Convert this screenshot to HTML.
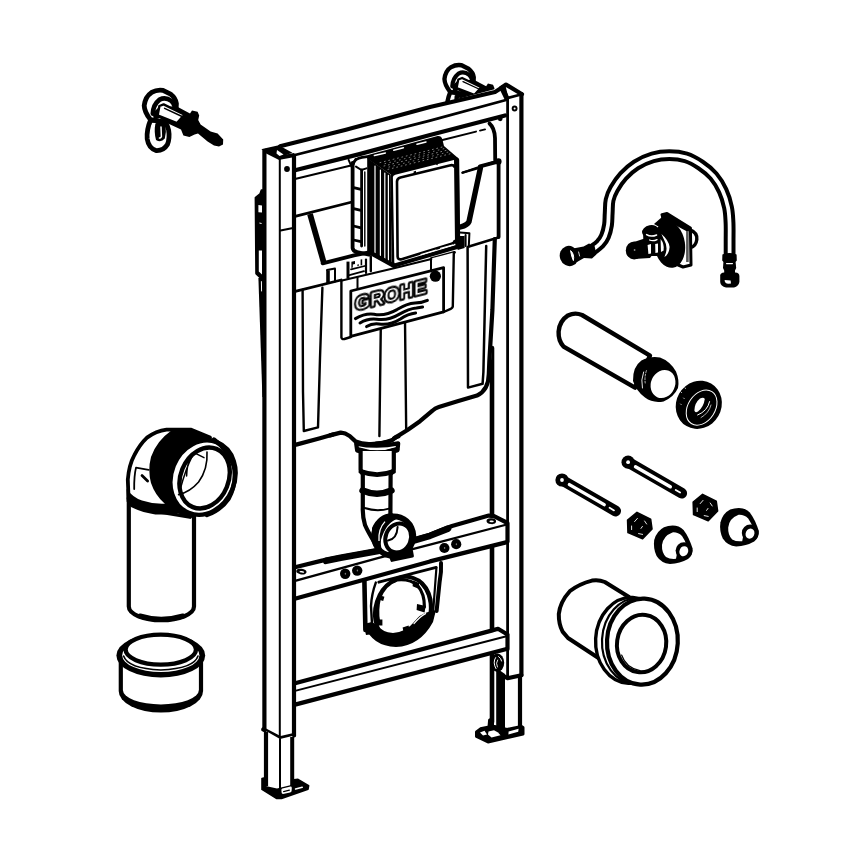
<!DOCTYPE html>
<html lang="en">
<head>
<meta charset="utf-8">
<title>GROHE installation frame - exploded parts drawing</title>
<style>
html,body{margin:0;padding:0;background:#fff;}
body{width:868px;height:868px;overflow:hidden;font-family:"Liberation Sans",sans-serif;}
svg{display:block;position:absolute;left:0;top:0;}
.k{fill:none;stroke:#000;stroke-width:4.2;stroke-linecap:round;stroke-linejoin:round;}
.m{fill:none;stroke:#000;stroke-width:2.8;stroke-linecap:round;stroke-linejoin:round;}
.t{fill:none;stroke:#000;stroke-width:2;stroke-linecap:round;stroke-linejoin:round;}
.h{fill:none;stroke:#000;stroke-width:1.2;stroke-linecap:round;stroke-linejoin:round;}
.w{fill:#fff;}
.b{fill:#000;}
.wk{fill:#fff;stroke:#000;stroke-width:4.2;stroke-linejoin:round;stroke-linecap:round;}
.wm{fill:#fff;stroke:#000;stroke-width:2.6;stroke-linejoin:round;stroke-linecap:round;}
.wt{fill:#fff;stroke:#000;stroke-width:1.8;stroke-linejoin:round;stroke-linecap:round;}
.bk{fill:#000;stroke:#000;stroke-width:3;stroke-linejoin:round;stroke-linecap:round;}
.ws{fill:none;stroke:#fff;stroke-linecap:round;stroke-linejoin:round;}
</style>
</head>
<body>
<svg width="868" height="868" viewBox="0 0 868 868" role="img" aria-label="GROHE installation frame exploded view">
<rect x="0" y="0" width="868" height="868" fill="#fff"/>
<!-- 10_bolt_tr.svg -->
<g id="bolt-tr" transform="translate(459.2 77.6) scale(0.91) translate(-160.4 -104)">
  <g>
    <!-- loop -->
    <path class="wk" d="M150.6,120 Q146.4,130 147.2,139 Q148.6,148 156,150.6 Q163.6,151 167.4,144.6 Q170,138 168.6,130 Q167,124 164.6,121.4 Z" style="stroke-width:4.8"/>
    <path class="b" d="M155.4,123.6 Q160.6,119.6 165.4,124 Q166.6,132 164.8,138.6 Q161,143 156,140 Q153.8,132 155.4,123.6 Z"/>
    <path class="ws" d="M161,127 L161.4,136.6 Q160.4,138.4 159.4,138" style="stroke-width:1.5"/>
    <path class="ws" d="M152,125.6 Q150.4,133 151.2,139" style="stroke-width:1"/>
    <!-- head disc -->
    <path class="wk" d="M150.4,119.6 Q144.4,112 144.2,105.6 Q145.2,96.6 151.6,92.4 Q157,89.4 163,90.4 L170.6,94.2 Q175.8,98.4 176.4,103.6 L176.2,108 L165,122 Z" style="stroke-width:4.8"/>
    <path class="k" d="M152.8,113.6 Q153.2,104.6 159.6,99.6 Q165.6,96.6 171.4,101 Q173.6,103 174.2,105.4" style="stroke-width:4.6"/>
    <path class="b" d="M152.6,113 L158,108 L160,118 L154,120 Z"/>
    <!-- black nut and thread -->
    <path class="b" d="M176,106 L190,113.4 L192,110.6 L197.6,111.8 L199.2,115.6 L198.2,120 L200.6,124.4 L210.6,131.6 L217.6,133.6 L223.2,139.4 L223,144.4 L219,146.6 L214,145.6 L207.6,141.4 L198,133.4 L194.6,134.6 L189.4,137 L183.4,135.4 L181,129.4 L168,123.6 L157,116.6 L158.6,108 Z"/>
    <!-- shaft -->
    <path class="wm" d="M159.4,106 L163.6,104.4 L184.6,114.6 L177,123 L157.6,115.4 Z" style="stroke-width:2.4"/>
    <path class="t" d="M164.6,108.4 L182.6,116.8" style="stroke-width:1.5"/>
  </g>
</g>
<!-- 15_rpost_back.svg -->
<g id="rpost-back">
  <path class="w" d="M492,120 L507.6,98 L521.4,94 L521.4,675 L507.6,678 L492,676 Z"/>
  <!-- right leg -->
  <path class="w" d="M492,660 L520,676 L520,728 L492,728 Z"/>
  <path class="k" d="M492,348 L492,722" style="stroke-width:4.6"/>
  <path class="k" d="M520,677 L520,727"/>
  <path class="b" d="M496.2,668 L505,674 L505,731 L496.2,731 Z"/>
  <ellipse class="b" cx="497.4" cy="662.8" rx="6.8" ry="9.2"/>
  <path class="ws" d="M495.6,657.6 Q492.4,662.6 496,668.6 M498.6,656.6 Q501.4,658.6 501.6,661" style="stroke-width:1"/>
  <path class="ws" d="M497.6,660 Q495.4,663 497.4,667" style="stroke-width:0.9"/>
  <!-- right foot -->
  <path class="bk" d="M476.5,732 L480.5,728.8 L489,727 L489.6,720 L492.5,718.5 L492.5,726 L507,729.5 L521.5,726.5 L523,727.5 L523,734 L488,742 L476.5,736.5 Z"/>
  <path class="w" d="M480,732.6 L484.5,730.8 L487,734.5 L483,735.6 Z"/>
  <path class="w" d="M488.5,731.4 L494,730.2 L498,732.4 L500.5,735.2 L491.5,737.4 L488,734.6 Z"/>
  <path class="w" d="M508.6,731.4 L518.6,728.8 L518.2,731.8 L508.4,734.4 Z"/>
</g>
<!-- 20_tank.svg -->
<g id="tank">
  <!-- upper body silhouette -->
  <path class="w" d="M296,178.8 L484,130 Q494,125 495.6,137 L500,160 L500,238 L489,388 Q487,392 475,396 L438.8,406.9 L420,421.2 L407.5,430 L398.8,441 L357.5,442.5 L350,436 L340,432.5 L296,444.6 Z"/>
  <!-- top edge -->
  <path class="t" d="M296,178.8 L352,165.2 M442.5,140 L476,131.6 M480,130.6 L485,129.4"/>
  <path class="k" d="M489.5,123.5 Q494.6,128 495,138 L495.2,160" style="stroke-width:3.8"/>
  <path class="k" d="M498.6,162 L498.6,237" style="stroke-width:3.8"/>
  <circle class="b" cx="498.4" cy="161.4" r="3.2"/>
  <circle class="b" cx="500.2" cy="118.8" r="2.4"/>
  <!-- band bottom edge -->
  <path class="m" d="M296,216.2 L352,202"/>
  <path class="t" d="M462.5,172.8 L497,160.6"/>
  <!-- left recess -->
  <path class="k" d="M310,214 L323.6,262" style="stroke-width:5.8;stroke-linecap:butt"/>
  <path class="k" d="M322.6,263.4 L354,255.4 L369,252.4" style="stroke-width:3.8"/>
  <!-- right recess -->
  <path class="t" d="M462.5,172.6 L480,167.6" style="stroke-width:2.2"/>
  <path class="k" d="M480,166.4 L499,161.4" style="stroke-width:4"/>
  <path class="k" d="M480.4,168 L469,221.6 Q467.6,225 460.4,227" style="stroke-width:5.4"/>
  <!-- shelf / top of lower body -->
  <path class="m" d="M296.2,291.2 L341.2,280"/>
  <path class="m" d="M469,246.4 L498.4,237.6" style="stroke-width:2.6"/>
  <path class="t" d="M460,232.6 L469.4,233.2 L468.8,246.4 M465.6,235 L465.6,246"/>
  <path class="b" d="M457.6,236 L464.6,236 L464.6,248 L457.6,250 Z"/>
  <path class="m" d="M431.2,258.6 L454.5,252.4"/>
  <path class="t" d="M431.2,258.8 L431.2,270"/>
  <!-- small details on shelf -->
  <path class="k" d="M328,270.4 L328,283.4" style="stroke-width:3.6;stroke-linecap:butt"/>
  <path class="t" d="M335,269 L335,281.4 M327,270 L335,268.6"/>
  <path class="k" d="M348,261.6 L348,278.6" style="stroke-width:3;stroke-linecap:butt"/>
  <path class="t" d="M351,269.4 L364.8,266 M349.4,275.2 L364,271.2" style="stroke-width:1.8"/>
  <path class="m" d="M366,259.6 L366,273" style="stroke-width:2.2"/>
  <path class="m" d="M370.8,256.4 L370.8,271" style="stroke-width:2.4"/>
  <path class="b" d="M351.4,261.8 l3.6,-0.9 l0,3 l-2.2,0.6 l0,3 l-1.4,0.4 Z M357.4,264.6 l1.4,-0.4 l0,1.6 l-1.4,0.4 Z M360.6,259.6 l1.6,-0.4 l0,6 l-1.6,0.4 Z"/>
  <!-- left rib -->
  <path class="m" d="M302.6,290 L303,392 L303.8,431 L318,427.4 L320,358 L322.4,287.6" style="stroke-width:2.4"/>
  <!-- centre column -->
  <path class="m" d="M380.8,326 L379.4,436 M405,320 L406.2,431" style="stroke-width:2.4"/>
  <!-- right rib -->
  <path class="m" d="M467.6,247 L468,387.6 L482.6,383.8 L483.4,372 L486.2,246" style="stroke-width:2.5"/>
  <!-- right edge + bottom outline -->
  <path class="k" d="M494.8,239 L492.4,310 L489.4,360 L488.8,374 Q488.6,390 477,395.6 L457.5,401.2 L438.8,406.9 Q435,408 432.5,410.6 L420,421.2 L407.5,430 L394,438.4"/>
  <path class="k" d="M296.2,444.6 L320,438.2 L333,434.4"/>
</g>
<!-- 30_flushpipe.svg -->
<g id="flushpipe">
  <!-- tank bottom sweep near the neck -->
  <path class="k" d="M330,435.4 L340.6,432.6 Q345,432.4 349.4,435.8 L355.5,441.4 Q362,444.4 371,444 Q384,443.6 392.5,440 L396,437"/>
  <!-- flange -->
  <path class="wk" d="M356.2,443.6 L357,449.4 Q377.5,456.4 397.6,449.2 L398.2,443.4 Q377,448 356.2,443.6 Z"/>
  <path class="k" d="M358,450 Q377.5,456.4 396.6,449.8" style="stroke-width:5.6"/>
  <path class="t" d="M376,442.6 Q388,442 399.5,437"/>
  <!-- pipe body -->
  <path class="w" d="M360.6,451 L393.8,451 L393.8,470 L390.4,475 L390.4,515 L362.6,515 L362.6,475 L360.6,470 Z"/>
  <path class="k" d="M360.6,450.6 L360.6,469.6 L362.8,474.6 L362.8,507.6 Q362.4,516 365,525 Q368,532 376,545"/>
  <path class="k" d="M393.8,450.6 L393.8,469.6 L390.6,474.6 L390.4,515"/>
  <path class="k" d="M361,471.6 Q377,477.6 393.4,471.6" style="stroke-width:4.8"/>
  <path class="k" d="M362.6,490.6 Q377,497 391.4,490.6" style="stroke-width:6.6"/>
  <path class="t" d="M364.6,508 Q377,512 389,508.6"/>
</g>
<!-- 40_bracket.svg -->
<g id="bracket">
  <!-- bracket plate under upper bar -->
  <path class="w" d="M363.8,581 L441,562 L437,612 Q428,640 403,646 Q378,646 366,630 Z"/>
  <path class="k" d="M364.4,581 L365.4,630" style="stroke-width:4.6"/>
  <path class="b" d="M363.6,624 L372,622 L374,634 L366,635 Z"/>
  <path class="t" d="M375.8,582.6 Q371.6,594 371,606 L372,624" style="stroke-width:2.4"/>
  <path class="k" d="M441,563 Q441.6,572 439.6,582 L436.6,611" style="stroke-width:4"/>
  <path class="t" d="M436.4,568 L433.2,611" style="stroke-width:2.2"/>
  <path class="m" d="M378.8,582.2 L436.2,567.4"/>
  <!-- ring -->
  <ellipse class="wk" cx="403" cy="610" rx="27.4" ry="33.6" transform="rotate(18 403 610)" style="stroke-width:4"/>
  <path class="b" d="M365,626 Q372,646 396,647 Q420,646 433,622 L436,610 L428,612 Q420,614 414,622 Q406,632 393,633 Q382,632 377,625 L372,622 Z"/>
  <path class="w" d="M379.5,597 Q386,583 398,580 Q409,579.6 416,585 Q424,594 423.6,606 L420,612 Q410,622 406,628 Q396,632.6 388,630.6 Q378,624 378.4,610 Z"/>
  <path class="k" d="M378.6,622 Q376.4,610 379.4,598 Q385,584 397,580 Q410,578.6 417.6,585.6 Q424.6,594 424.4,607" style="stroke-width:3.2"/>
  <path class="b" d="M413,580.6 l6.4,2.4 l-1.4,5.6 l-5.4,-2.4 Z M417,604 l8.6,2 l-1,6.6 l-8,-2.6 Z M376.4,619.6 l6,0 l0,6 l-6,0 Z M402.6,627.6 l6,-2 l1.2,5.6 l-6,2 Z M380.4,595.6 l4,1.2 l-1.2,4.2 l-4,-1.2 Z M389.6,580.5 l5,-2.8 l1.8,4 l-5.4,2.2 Z"/>
  <path class="t" d="M420.6,583.6 Q430.6,594 430,611"/>
  <path class="h" d="M414,623.6 Q420.6,616 425.6,613.6" style="stroke:#fff"/>
</g>
<!-- 50_frame.svg -->
<g id="frame">
  <!-- lower cross bar -->
  <path class="w" d="M296,683 L491,630.6 L498,628.8 L508,634.4 L508,649 L296,704.6 Z"/>
  <path class="k" d="M296,683 L491.5,630.6 L498,628.8 L507.5,634.5"/>
  <path class="t" d="M296,690.6 L506.5,636.2"/>
  <path class="k" d="M296,704.4 L507.5,648.8"/>
  <!-- upper cross bar -->
  <path class="w" d="M296,567 L358.5,552.5 L430,534.4 L488.8,515.6 L494,516.2 L507.5,523 L507.5,542 L430,561.4 L293,599.2 Z"/>
  <path class="k" d="M296,567 L322,560.6 L340.7,557 L372,551.4 L385,548.4 L414,539.6 L430,534.8 L452,526 L488.8,515.6 L494,516.2 L507.5,523"/>
  <path class="k" d="M326,560.8 L340.7,557.8 L378,551 M412,541 L430,535.8 L448,528.6" style="stroke-width:6.6"/>
  <path class="t" d="M296,580.6 L378.7,557.8 L430,544.6 L505,525" style="stroke-width:2.3"/>
  <path class="k" d="M293,599.2 L358.5,581.2 L430,561.4 L506,542.4"/>
  <ellipse class="b" cx="301.4" cy="571.6" rx="5.2" ry="2.9" transform="rotate(8 301.4 571.6)"/>
  <ellipse class="w" cx="301.8" cy="571.8" rx="2.4" ry="0.8" transform="rotate(8 301.8 571.8)"/>
  <ellipse class="b" cx="491.3" cy="521.2" rx="4.8" ry="2.9" transform="rotate(5 491.3 521.2)"/>
  <ellipse class="w" cx="491.6" cy="521.4" rx="2.2" ry="0.8" transform="rotate(5 491.6 521.4)"/>
  <g class="b">
    <circle cx="345.2" cy="573.8" r="5.2"/><circle cx="357.2" cy="570.6" r="5.2"/>
    <circle cx="444.4" cy="548" r="5.1"/><circle cx="456.2" cy="544.2" r="5.1"/>
  </g>
  <g fill="#777">
    <ellipse cx="345.4" cy="573.8" rx="0.7" ry="1"/><ellipse cx="357.4" cy="570.6" rx="0.7" ry="1"/>
    <ellipse cx="444.6" cy="548" rx="0.7" ry="1"/><ellipse cx="456.4" cy="544.2" rx="0.7" ry="1"/>
  </g>
  <!-- top rail -->
  <path class="w" d="M280,146.3 L502,87.3 L507.5,98 L507,116 L296,170.5 L294,155 Z"/>
  <path class="k" d="M280,146.3 L345,130 L430,107 L495,92 L502,87.5"/>
  <path class="m" d="M295,155 L358.5,138.8 L430,120.6 L506,100"/>
  <path class="k" d="M296,170 L358.5,154.4 L430,135 L505,115.5"/>
  <!-- bracket on the outside of the left post -->
  <path class="bk" d="M255.4,197.6 L260,194 L261.4,190 L265,190 L265,279 L261.2,278.8 L256,273.6 Z" style="stroke-width:1.6"/>
  <path class="w" d="M258.4,205 L262,205.4 L262,212.6 L258.4,212.2 Z M258.8,250.4 L262,250.4 L262,274.4 L258.8,271.6 Z M259.4,222.4 L261.6,223 L261.6,224 L259.4,223.4 Z"/>
  <path class="b" d="M258.4,278 L266,278 L266,397 L262.4,397 Z"/>
  <path class="ws" d="M261.4,281.6 L261.6,291" style="stroke-width:1"/>
  <!-- left post -->
  <path class="w" d="M264.4,149.5 L280,146.5 L294,155 L294,735 L280,738 L264.4,729.4 Z"/>
  <path class="k" d="M264.4,149 L264.4,729.4" style="stroke-linecap:butt"/>
  <path class="t" d="M279.8,158 L279.8,738"/>
  <path class="k" d="M294,155.5 L294,735.5"/>
  <path class="k" d="M264.6,150.4 L279.5,157.8 L294.5,155" style="stroke-linecap:butt"/>
  <path class="bk" d="M264.4,149.6 L278.6,146.4 L290,152.5 L279.5,156.5 Z" style="stroke-width:2;stroke-linejoin:miter"/>
  <path class="w" d="M277,150 L283.5,154.6 L279.5,156 L276.5,153.5 Z"/>
  <circle class="b" cx="287" cy="169" r="2.9"/>
  <path class="t" d="M280.6,230.6 L293,228"/>
  <path class="k" d="M263.2,729.4 L280,738.2 L294,735"/>
  <!-- left foot -->
  <path class="bk" d="M262,778.6 L266,777.6 L292,780 L298,779.4 L308.6,785.8 L308,789.2 L281.5,798.4 L276.4,798.4 L262,789.4 Z" style="stroke-width:1.6"/>
  <!-- left leg -->
  <path class="w" d="M266,731 L280,739 L292.3,736 L292.2,784.8 L281,787.6 L277,788.6 L268,786.4 L266,786 Z"/>
  <path class="k" d="M266,731.5 L266,786" style="stroke-width:4.2;stroke-linecap:butt"/>
  <path class="t" d="M280,739 L280,790"/>
  <path class="k" d="M292.2,737 L292.2,786" style="stroke-width:4;stroke-linecap:butt"/>
  <path class="w" d="M282.4,788.6 L290.6,786.6 Q291.8,786.6 291.8,788 L291.6,791 Q291.4,792.2 290,792.6 L283,794 Q281.6,794 281.6,792.6 L281.4,790 Q281.4,789 282.4,788.6 Z"/>
  <path class="t" d="M283.6,791.6 L289.4,790.2" style="stroke-width:1.2"/>
  <path class="ws" d="M295.6,789 L302.2,787.2" style="stroke-width:1.6"/>
  <!-- right post -->
  <path class="w" d="M502,87.3 L506,84.5 L522,94 L521.5,675 L507.7,678 L507.5,98 Z"/>
  <path class="m" d="M507.6,98 L507.6,678"/>
  <path class="k" d="M521.4,94 L521.4,675"/>
  <path class="k" d="M502,87.2 L506,84.6 L522,94.2"/>
  <path class="m" d="M503,88 L508,98 L521,94.5"/>
  <path class="bk" d="M500,87.5 L504.5,86 L507,96 L505.5,99 Z" style="stroke-width:2"/>
  <circle class="b" cx="514.6" cy="108.5" r="2.9"/>
  <circle class="w" cx="514.6" cy="108.5" r="1"/>
  <path class="k" d="M507.5,523 L507.5,541.5"/>
  <path class="k" d="M507.5,634.5 L507.5,649"/>
  <path class="k" d="M521.4,675.2 L507.6,678.2 L503.6,676"/>
</g>
<!-- 55_elbowring.svg -->
<g id="elbowring">
  <!-- elbow ring -->
  <ellipse class="w" cx="393.6" cy="536.4" rx="21" ry="21" transform="rotate(20 393.6 536.4)"/>
  <ellipse cx="393.6" cy="536.2" rx="19.6" ry="19.8" transform="rotate(20 393.6 536.2)" fill="#fff" stroke="#000" stroke-width="5.8"/>
  <ellipse cx="398.2" cy="538" rx="12.6" ry="14.8" transform="rotate(22 398.2 538)" fill="#fff" stroke="#000" stroke-width="4"/>
  <path class="b" d="M372,528 Q378,514 392,513 L399,518 Q386,522 381,540 Q380,548 384,554 L377,548 Q371,538 372,528 Z"/>
  <path d="M379,541 Q378,529 385,521.6" fill="none" stroke="#fff" stroke-width="1.3"/>
  <path class="t" d="M388,540.6 Q397,539 397.6,527"/>
  <path class="bk" d="M389.5,553 L411.5,551 L412.4,556 L392,560.4 Z"/>
</g>
<!-- 60_box.svg -->
<g id="actuator-box">
  <!-- left bracket -->
  <path class="w" d="M351,161.6 L367.6,157 L367.6,250 L353,247.6 Z"/>
  <path class="k" d="M352.6,163 L352.6,248 Q353,251.4 357,252 L369,254.6" style="stroke-width:3.8"/>
  <path class="t" d="M348.6,159.8 L352,167.6 L355.6,159"/>
  <path class="m" d="M353,164 Q355,158.4 362,157.4 L369,156.4"/>
  <path class="m" d="M361.6,170 L361.6,246"/>
  <path class="t" d="M356,166.6 L361.4,170 L366.4,168.4"/>
  <path class="m" d="M353.6,187.6 L361,189.4 M353.6,208.6 L361,210.4 M353.6,226 L361,227.8 M353.6,240 L361,241.6"/>
  <path class="t" d="M364.8,172 L364.8,246" style="stroke-width:1.4"/>
  <!-- side (hatched) -->
  <path class="b" d="M367.2,158 L390.6,174.6 L391.6,265 L367.2,251.4 Z"/>
  <path class="ws" d="M375,166 L375,253 M380.4,170 L380.4,256 M384.8,173 L384.8,258.6 M388.4,175.4 L388.4,260.8" style="stroke-width:1.2"/>
  <!-- top (dark textured) -->
  <path class="b" d="M367,158.6 L368,155 L437.6,136 Q441.4,135.6 442.4,139.4 L444,146 L458,158 L393,176 Z"/>
  <path class="ws" d="M374.4,155.6 L385.4,153 M393.8,150.2 L403.4,147.8 M417,144.2 L426,142" style="stroke-width:1.5"/>
  <path class="ws" d="M380,162.6 L452,144.6 M384,166 L454,148.4 M388,169.4 L455,152.6" style="stroke-width:0.5;stroke-dasharray:0.9 3.6"/>
  <path class="ws" d="M382,164.4 L453,146.4 M386,167.8 L454,150.6" style="stroke-width:0.45;stroke-dasharray:0.8 4.2;stroke-dashoffset:2"/>
  <!-- front face -->
  <path class="wk" d="M391.6,177.4 Q391.4,174.6 395,173.6 L454.6,158.6 Q457.4,158 457.6,161.6 L458.4,242.4 Q458.4,246 455,247 L397,265 Q393.2,266 393,262.4 Z" style="stroke-width:2.6"/>
  <path class="k" d="M456.6,160 L457.6,243" style="stroke-width:5.2"/>
  <path class="m" d="M454,166.4 Q453.6,164.6 449.6,165.4 L400.4,177.6 Q396.8,178.6 397,182 L397.6,256.6 Q397.8,260 401.6,259.2 L451.6,243.8 Q454.4,243 454.6,241" style="stroke-width:2.6"/>
  <path class="b" d="M413.6,171.4 l2.4,-0.6 l0,3.6 l-2.4,0.6 Z M433.4,161.6 l6.4,-1.6 l-2.6,5.4 Z"/>
  <path class="k" d="M394.6,265.4 L457,247" style="stroke-width:4"/>
  <path class="k" d="M370,252.6 L394.4,266" style="stroke-width:4.4"/>
  <path class="ws" d="M421,254.6 L436,250 M440.6,248.4 L452.6,245" style="stroke-width:1.2"/>
</g>
<!-- 70_label.svg -->
<g id="label">
  <path class="w" d="M341,281.4 L394,268 L453.8,252.6 L452.6,307.6 L445,312.4 L350.8,337 L342.6,339 L341,338 Z"/>
  <path class="t" d="M341,280.8 L394,268.2 L431.4,259"/>
  <path class="m" d="M341.4,281 L341.4,337.6 Q341.8,339.6 344.4,339 L350.8,337" style="stroke-width:2.4"/>
  <path class="m" d="M453.8,252.8 L452.8,306.4 Q452.4,308.4 449,309.6 L443.6,312" style="stroke-width:2.4"/>
  <path class="t" d="M357.5,277.2 L357.5,288.8 M431,259 L431,270.6"/>
  <path class="wm" d="M350.8,291 L443.6,267.6 L443.6,311.8 L350.8,336.4 Z" style="stroke-width:2.8"/>
  <filter id="gray" x="-10%" y="-30%" width="120%" height="160%" color-interpolation-filters="sRGB"><feColorMatrix type="saturate" values="0"/></filter>
  <g transform="matrix(1 -0.25 0 1 354.8 310.9)" filter="url(#gray)">
    <text x="0" y="0" font-family="'Liberation Sans',sans-serif" font-weight="700" font-size="20" textLength="72" lengthAdjust="spacingAndGlyphs" fill="#000" stroke="#000" stroke-width="3.3" stroke-linejoin="round">GROHE</text>
    <text x="0" y="0" font-family="'Liberation Sans',sans-serif" font-weight="700" font-size="20" textLength="72" lengthAdjust="spacingAndGlyphs" fill="#fff" stroke="#000" stroke-width="0.8" stroke-linejoin="round" aria-hidden="true">GROHE</text>
  </g>
  <circle class="b" cx="435.4" cy="276.2" r="5.6"/>
  <g class="m" style="stroke-width:3">
    <path d="M355.4,318.6 Q365,313 374,314.2 Q385,316.4 397,309.6 Q407,303.4 415,303 Q422,303 427.4,300.4"/>
    <path d="M360,323 Q368,318.2 376.6,319.2 Q388,321 399,314.4 Q409,308.6 416.4,308 L422.6,307"/>
    <path d="M366.6,326.6 Q372,323.2 379,324 Q390,325.6 400.4,319 Q408,313.8 415.6,313"/>
  </g>
</g>
<!-- 80_bolt_tl.svg -->
<g id="bolt-tl">
  <g>
    <!-- loop -->
    <path class="wk" d="M150.6,120 Q146.4,130 147.2,139 Q148.6,148 156,150.6 Q163.6,151 167.4,144.6 Q170,138 168.6,130 Q167,124 164.6,121.4 Z" style="stroke-width:4.8"/>
    <path class="b" d="M155.4,123.6 Q160.6,119.6 165.4,124 Q166.6,132 164.8,138.6 Q161,143 156,140 Q153.8,132 155.4,123.6 Z"/>
    <path class="ws" d="M161,127 L161.4,136.6 Q160.4,138.4 159.4,138" style="stroke-width:1.5"/>
    <path class="ws" d="M152,125.6 Q150.4,133 151.2,139" style="stroke-width:1"/>
    <!-- head disc -->
    <path class="wk" d="M150.4,119.6 Q144.4,112 144.2,105.6 Q145.2,96.6 151.6,92.4 Q157,89.4 163,90.4 L170.6,94.2 Q175.8,98.4 176.4,103.6 L176.2,108 L165,122 Z" style="stroke-width:4.8"/>
    <path class="k" d="M152.8,113.6 Q153.2,104.6 159.6,99.6 Q165.6,96.6 171.4,101 Q173.6,103 174.2,105.4" style="stroke-width:4.6"/>
    <path class="b" d="M152.6,113 L158,108 L160,118 L154,120 Z"/>
    <!-- black nut and thread -->
    <path class="b" d="M176,106 L190,113.4 L192,110.6 L197.6,111.8 L199.2,115.6 L198.2,120 L200.6,124.4 L210.6,131.6 L217.6,133.6 L223.2,139.4 L223,144.4 L219,146.6 L214,145.6 L207.6,141.4 L198,133.4 L194.6,134.6 L189.4,137 L183.4,135.4 L181,129.4 L168,123.6 L157,116.6 L158.6,108 Z"/>
    <!-- shaft -->
    <path class="wm" d="M159.4,106 L163.6,104.4 L184.6,114.6 L177,123 L157.6,115.4 Z" style="stroke-width:2.4"/>
    <path class="t" d="M164.6,108.4 L182.6,116.8" style="stroke-width:1.5"/>
  </g>
</g>
<!-- 81_hose.svg -->
<g id="hose">
  <path d="M587.0,252.6 C588.1,252.0 591.6,250.2 593.8,248.8 C595.9,247.3 598.1,245.8 600.0,243.8 C601.9,241.7 603.7,239.4 605.0,236.2 C606.3,233.1 607.4,228.9 608.0,225.0 C608.6,221.1 608.4,217.2 608.7,213.0 C609.0,208.8 608.7,204.0 609.6,200.0 C610.5,196.0 611.7,193.0 614.0,189.0 C616.3,185.0 619.5,180.0 623.2,176.0 C626.9,172.0 631.1,168.1 636.0,165.0 C640.9,161.9 647.2,159.0 652.7,157.4 C658.2,155.8 663.8,155.2 669.3,155.2 C674.8,155.2 680.7,155.8 685.9,157.4 C691.1,159.0 696.0,161.9 700.6,165.0 C705.2,168.1 709.8,171.7 713.5,176.0 C717.2,180.3 720.3,185.6 722.7,190.8 C725.1,196.0 726.9,202.2 728.0,207.4 C729.1,212.6 729.2,216.8 729.5,222.2 C729.8,227.6 729.6,234.4 729.6,240.0 C729.6,245.6 729.6,253.3 729.6,256.0" fill="none" stroke="#000" stroke-width="11.8" stroke-linecap="butt" stroke-linejoin="round"/>
  <path d="M587.0,252.6 C588.1,252.0 591.6,250.2 593.8,248.8 C595.9,247.3 598.1,245.8 600.0,243.8 C601.9,241.7 603.7,239.4 605.0,236.2 C606.3,233.1 607.4,228.9 608.0,225.0 C608.6,221.1 608.4,217.2 608.7,213.0 C609.0,208.8 608.7,204.0 609.6,200.0 C610.5,196.0 611.7,193.0 614.0,189.0 C616.3,185.0 619.5,180.0 623.2,176.0 C626.9,172.0 631.1,168.1 636.0,165.0 C640.9,161.9 647.2,159.0 652.7,157.4 C658.2,155.8 663.8,155.2 669.3,155.2 C674.8,155.2 680.7,155.8 685.9,157.4 C691.1,159.0 696.0,161.9 700.6,165.0 C705.2,168.1 709.8,171.7 713.5,176.0 C717.2,180.3 720.3,185.6 722.7,190.8 C725.1,196.0 726.9,202.2 728.0,207.4 C729.1,212.6 729.2,216.8 729.5,222.2 C729.8,227.6 729.6,234.4 729.6,240.0 C729.6,245.6 729.6,253.3 729.6,256.0" fill="none" stroke="#fff" stroke-width="3.8" stroke-linecap="butt" stroke-linejoin="round"/>
  <!-- left connector -->
  <path class="b" d="M583.6,246.6 L589,243.4 L594.6,246 L596.4,254.6 L592,258.6 L584,258 L577,262 L573,248.6 Z"/>
  <ellipse class="b" cx="569.2" cy="256" rx="9.4" ry="10.2" transform="rotate(-20 569.2 256)"/>
  <path class="w" d="M570.6,250.6 Q574.6,254 573.4,260.6 Q571.4,256.6 570.6,250.6 Z" style="stroke:#fff;stroke-width:1"/>
  <path class="ws" d="M578.6,252 L579.6,256" style="stroke-width:0.8"/>
  <!-- right connector -->
  <path class="b" d="M722.4,254.4 Q729.4,251.6 736.6,254.4 L736.8,260.6 L735.6,262 L736.2,268 L735,270.6 L735,273 L724.2,273 L724.2,270.6 L723,268 L723.4,262 L722.2,260.6 Z"/>
  <path class="ws" d="M726.6,263.6 L732.4,263.6 M727,273.6 L732.6,273.6" style="stroke-width:1.3"/>
  <path class="b" d="M720.2,275.6 Q720.4,272.6 724,272.4 L735.4,272.4 Q739.2,272.6 739.4,276 L739.4,282 Q738.6,286.4 734,287.4 L726,287.4 Q720.6,286.4 720.2,282 Z"/>
  <path class="w" d="M724.6,280 Q724.6,283.6 728.4,283.8 L731,283.6 L730.6,280.6 Z"/>
</g>
<!-- 82_valve.svg -->
<g id="valve">
  <!-- plate & loop -->
  <path class="wk" d="M689.6,229.6 Q697.6,232.6 696.8,239.6 Q696,246 690.6,247.6" style="stroke-width:3.4"/>
  <path class="wk" d="M662,214.6 L667,213.4 L690.4,228 L691,265 L683,267 L676,264 Z" style="stroke-width:3"/>
  <path class="b" d="M661.4,214.4 L667,213.2 L690.6,228.4 L688,232 L675,225 L662,222 Z"/>
  <path d="M687.4,231 L687.4,262" stroke="#555" stroke-width="2.6" fill="none"/>
  <!-- body disc -->
  <ellipse class="b" cx="669.6" cy="244.6" rx="15.4" ry="23.4" transform="rotate(-8 669.6 244.6)"/>
  <path class="b" d="M654,224 L662,217 L672,221 L668,232 Z"/>
  <!-- knob -->
  <ellipse class="b" cx="650.6" cy="231.4" rx="8.6" ry="6.2" transform="rotate(-10 650.6 231.4)"/>
  <path class="b" d="M643,232 L659,232 L660,256 L644,256 Z"/>
  <path class="ws" d="M646.6,234.6 Q651,237.4 656.6,235" style="stroke-width:1.5"/>
  <path class="ws" d="M649.6,240 Q653,241.6 657,239.6" style="stroke-width:1.3"/>
  <!-- left end -->
  <ellipse class="b" cx="634.2" cy="250.4" rx="8.4" ry="9" />
  <path class="b" d="M634,242 L646,238 L656,250 L650,258 L634,259 Z"/>
  <circle cx="634.6" cy="250" r="0.9" fill="#888"/>
  <path class="w" d="M647.6,245 L651,244 L651,253.4 L648.4,254 Z M655.2,244 L658,243.6 L658,252.6 L655.4,253 Z"/>
  <!-- white crescent in body -->
  <path class="w" d="M661.4,234 Q668.6,240 669.6,247 Q669,254.6 664.4,257 L666,252.6 Q667.6,246 664.4,240.6 Z"/>
  <path class="w" d="M660.6,239 Q664.6,244 663.6,250.6 L661,252 Z"/>
</g>
<!-- 83_pipe.svg -->
<g id="pipe">
  <!-- tube -->
  <path class="wk" d="M650,355.6 L582,315 Q575,312 568,315.4 Q559.4,321 558.6,331.6 Q558.2,340.6 563.6,346.6 L635,387.6 Z" style="stroke-width:4.4"/>
  <!-- black collar -->
  <path class="b" d="M633,381 Q632.6,367 641.4,360.6 Q650,355.6 660,357.4 Q670,361 676,371.4 Q679.6,380 678,388 Q674,397 663.6,401.4 Q653,403.6 645,397.6 Q636.6,391.6 633,381 Z"/>
  <ellipse class="w" cx="663" cy="384" rx="12" ry="14.4" transform="rotate(24 663 384)"/>
  <path class="ws" d="M643.6,372 Q640.6,380 642.4,388" style="stroke-width:0.9"/>
  <path class="ws" d="M646.4,370.6 Q644.4,377 645.2,383" style="stroke-width:0.7;stroke-dasharray:2 1.6"/>
</g>
<g id="seal">
  <ellipse class="b" cx="698.8" cy="404.8" rx="22.6" ry="24.6" transform="rotate(30 698.8 404.8)"/>
  <ellipse cx="701.6" cy="407.6" rx="13.6" ry="19" transform="rotate(33 701.6 407.6)" fill="none" stroke="#fff" stroke-width="1"/>
  <path class="w" d="M694.4,410.6 Q694.6,403 700,398.6 Q703.6,396.6 704.8,399 Q703.6,407 698,411.6 Q695,413.4 694.4,410.6 Z"/>
  <path class="ws" d="M697.6,415 Q707.6,411 709.6,401.6" style="stroke-width:1"/>
  <path class="ws" d="M701,417.6 Q709,413 711,405" style="stroke-width:0.7"/>
  <path class="ws" d="M681,392 l0.6,0.6 M683.6,398 l0.6,0.6 M680.6,404 l0.6,0.6 M685,388 l0.6,0.4" style="stroke-width:0.8"/>
</g>
<!-- 84_rods.svg -->
<g id="rods">
  <g>
    <path d="M563.4,480.8 L615.6,511" stroke="#000" stroke-width="10.8" stroke-linecap="round" fill="none"/>
    <circle class="b" cx="562" cy="480" r="6.6"/>
    <circle class="w" cx="562" cy="480" r="1.9"/>
    <path d="M569.4,484.6 L604.2,504.6" stroke="#fff" stroke-width="3.4" stroke-linecap="round" fill="none"/>
    <path d="M609.6,507.8 L614,510.4" stroke="#fff" stroke-width="1.8" stroke-linecap="round" fill="none"/>
  </g>
  <g transform="translate(66.1 -17.8)">
    <path d="M563.4,480.8 L615.6,511" stroke="#000" stroke-width="10.8" stroke-linecap="round" fill="none"/>
    <circle class="b" cx="562" cy="480" r="6.6"/>
    <circle class="w" cx="562" cy="480" r="1.9"/>
    <path d="M569.4,484.6 L604.2,504.6" stroke="#fff" stroke-width="3.4" stroke-linecap="round" fill="none"/>
    <path d="M609.6,507.8 L614,510.4" stroke="#fff" stroke-width="1.8" stroke-linecap="round" fill="none"/>
  </g>
  <g>
    <path class="b" d="M637,512.4 L650.6,519.2 L652,529 L642.6,538.8 L628,532.6 L627.6,520 Z" style="stroke:#000;stroke-width:1.6;stroke-linejoin:round"/>
    <path class="ws" d="M634.6,521.6 L637.4,518.4 M644.6,521 L646.6,524 M641,528.4 L642.4,526.4 M638.6,533.6 L642.6,534.4 M631.6,526 L631.6,529.6" style="stroke-width:0.9"/>
  </g>
  <g transform="translate(65.6 -18)">
    <path class="b" d="M637,512.4 L650.6,519.2 L652,529 L642.6,538.8 L628,532.6 L627.6,520 Z" style="stroke:#000;stroke-width:1.6;stroke-linejoin:round"/>
    <path class="ws" d="M634.6,521.6 L637.4,518.4 M644.6,521 L646.6,524 M641,528.4 L642.4,526.4 M638.6,533.6 L642.6,534.4 M631.6,526 L631.6,529.6" style="stroke-width:0.9"/>
  </g>
  <g>
    <path class="b" d="M672.6,525.6 Q679,525.6 683.6,530 Q689,537 692.6,548.6 Q693,555.6 688,559 Q680,563.6 670,564 Q661,563 656.6,556 Q653,548.6 654.2,540 Q656.6,531 664,527.2 Q668,525.6 672.6,525.6 Z"/>
    <path class="w" d="M672.4,532.4 Q678,532 682,536 Q685.6,541 686.6,546 L678,548 L676,558.8 Q670,559.4 666,557 Q661.6,552.6 662,545 Q663,536 672.4,532.4 Z"/>
    <ellipse class="b" cx="684" cy="550.6" rx="8.4" ry="8.4"/>
    <ellipse class="w" cx="683.8" cy="551.2" rx="4.3" ry="5.2" transform="rotate(25 683.8 551.2)"/>
  </g>
  <g transform="translate(66.2 -17.6)">
    <path class="b" d="M672.6,525.6 Q679,525.6 683.6,530 Q689,537 692.6,548.6 Q693,555.6 688,559 Q680,563.6 670,564 Q661,563 656.6,556 Q653,548.6 654.2,540 Q656.6,531 664,527.2 Q668,525.6 672.6,525.6 Z"/>
    <path class="w" d="M672.4,532.4 Q678,532 682,536 Q685.6,541 686.6,546 L678,548 L676,558.8 Q670,559.4 666,557 Q661.6,552.6 662,545 Q663,536 672.4,532.4 Z"/>
    <ellipse class="b" cx="684" cy="550.6" rx="8.4" ry="8.4"/>
    <ellipse class="w" cx="683.8" cy="551.2" rx="4.3" ry="5.2" transform="rotate(25 683.8 551.2)"/>
  </g>
</g>
<!-- 85_sleeve.svg -->
<g id="sleeve">
  <path class="wk" d="M629,597 L604.8,582 Q599,579.6 592,580.6 Q579,584 570,591 Q560,602 558.8,614 Q558.6,624 562.6,631.6 L568,638 L600,659 Z" style="stroke-width:4"/>
  <ellipse class="wk" cx="630.6" cy="640.4" rx="35" ry="43" transform="rotate(3 630.6 640.4)" style="stroke-width:3.4"/>
  <ellipse class="wk" cx="637" cy="641" rx="35" ry="43" transform="rotate(3 637 641)" style="stroke-width:2.2"/>
  <ellipse class="wk" cx="642.4" cy="641.6" rx="35.4" ry="43" transform="rotate(3 642.4 641.6)" style="stroke-width:4.2"/>
  <ellipse class="wk" cx="641.6" cy="643.6" rx="24.6" ry="28.8" transform="rotate(8 641.6 643.6)" style="stroke-width:4"/>
  <path class="h" d="M621.6,655 Q626,668 640,670.6"/>
</g>
<!-- 86_elbow.svg -->
<g id="elbow">
  <!-- vertical pipe -->
  <path class="wk" d="M128.8,498 L128.8,606.6 A32.6,13.6 0 0 0 194,606.6 L194,505 Z" style="stroke-width:4.2"/>
  <path class="k" d="M140,616 Q161,622.6 183,616" style="stroke-width:5"/>
  <!-- elbow body -->
  <path class="wk" d="M128.6,499 L127.8,479.6 Q129,465 134.2,455.4 Q139.6,444.6 147,437.6 Q156,431 166.6,429.6 L190.6,429.6 L210,437.6 L190,517 L160,512 Z" style="stroke-width:3.8"/>
  <!-- black band -->
  <path class="b" d="M171.4,430.6 Q180,428.6 190.6,429.4 Q202,431.6 210,437.6 L204,441 Q190,443 181,453 Q171.6,464.6 170,478 Q169.6,490 174.6,499.6 L181.6,509.6 L172,511 L164.6,503.6 Q155,495 151,483 Q147.6,470 151,457 Q156.6,441 171.4,430.6 Z"/>
  <!-- collar -->
  <path class="b" d="M126.6,489 Q133,497.6 142,500.6 Q152,504 163,503.8 L178,503 L198,511 L194.6,518.4 L185.7,516 L177.4,513.2 Q168,515 155.3,514.4 Q141.5,512.4 131,507 L126.6,501.6 Z"/>
  <!-- ring -->
  <ellipse cx="203" cy="477.6" rx="31.6" ry="38" transform="rotate(22 203 477.6)" fill="#fff" stroke="#000" stroke-width="4.4"/>
  <ellipse cx="204.6" cy="478" rx="24" ry="31.4" transform="rotate(22 204.6 478)" fill="#fff" stroke="#000" stroke-width="4.4"/>
  <path class="k" d="M214,439.6 Q228,449.6 234,466.6 Q237,483 228.6,498.6 Q220,510.6 207,515" style="stroke-width:4.4"/>
  <!-- interior lines -->
  <path class="t" d="M178.6,494.6 Q190,492 198.6,482 Q208,469 207,452" style="stroke-width:1.6"/>
  <path class="t" d="M180,490 Q186,468 192,456.6 M186.6,476 Q187,466 189.4,460" style="stroke-width:1.5"/>
  <path class="t" d="M196,453.6 L204,457.6" style="stroke-width:1.5"/>
  <!-- flag mark -->
  <path class="t" d="M134.2,489 Q134,476 136,467.6 L148.6,469.8" style="stroke-width:1.8"/>
  <path class="k" d="M142,475.6 L147.6,481" style="stroke-width:2.8"/>
</g>
<g id="ring-seal">
  <path class="b" d="M118.7,658 L118.7,691 A42.2,21.6 0 0 0 203.1,691 L203.1,658 Z"/>
  <path class="w" d="M122.9,658 L122.9,690 A38,14.4 0 0 0 198.9,690 L198.9,658 Z"/>
  <ellipse class="b" cx="160.8" cy="655.5" rx="44.4" ry="21.9"/>
  <ellipse class="w" cx="160.8" cy="655.2" rx="38.6" ry="16.8"/>
  <path class="t" d="M123.6,656 Q128,668.6 160.8,670 Q194,668.6 198,656" style="stroke-width:1.6"/>
  <ellipse class="wk" cx="160.8" cy="649.6" rx="35.2" ry="15" style="stroke-width:4.4"/>
</g>
</svg>
</body>
</html>
